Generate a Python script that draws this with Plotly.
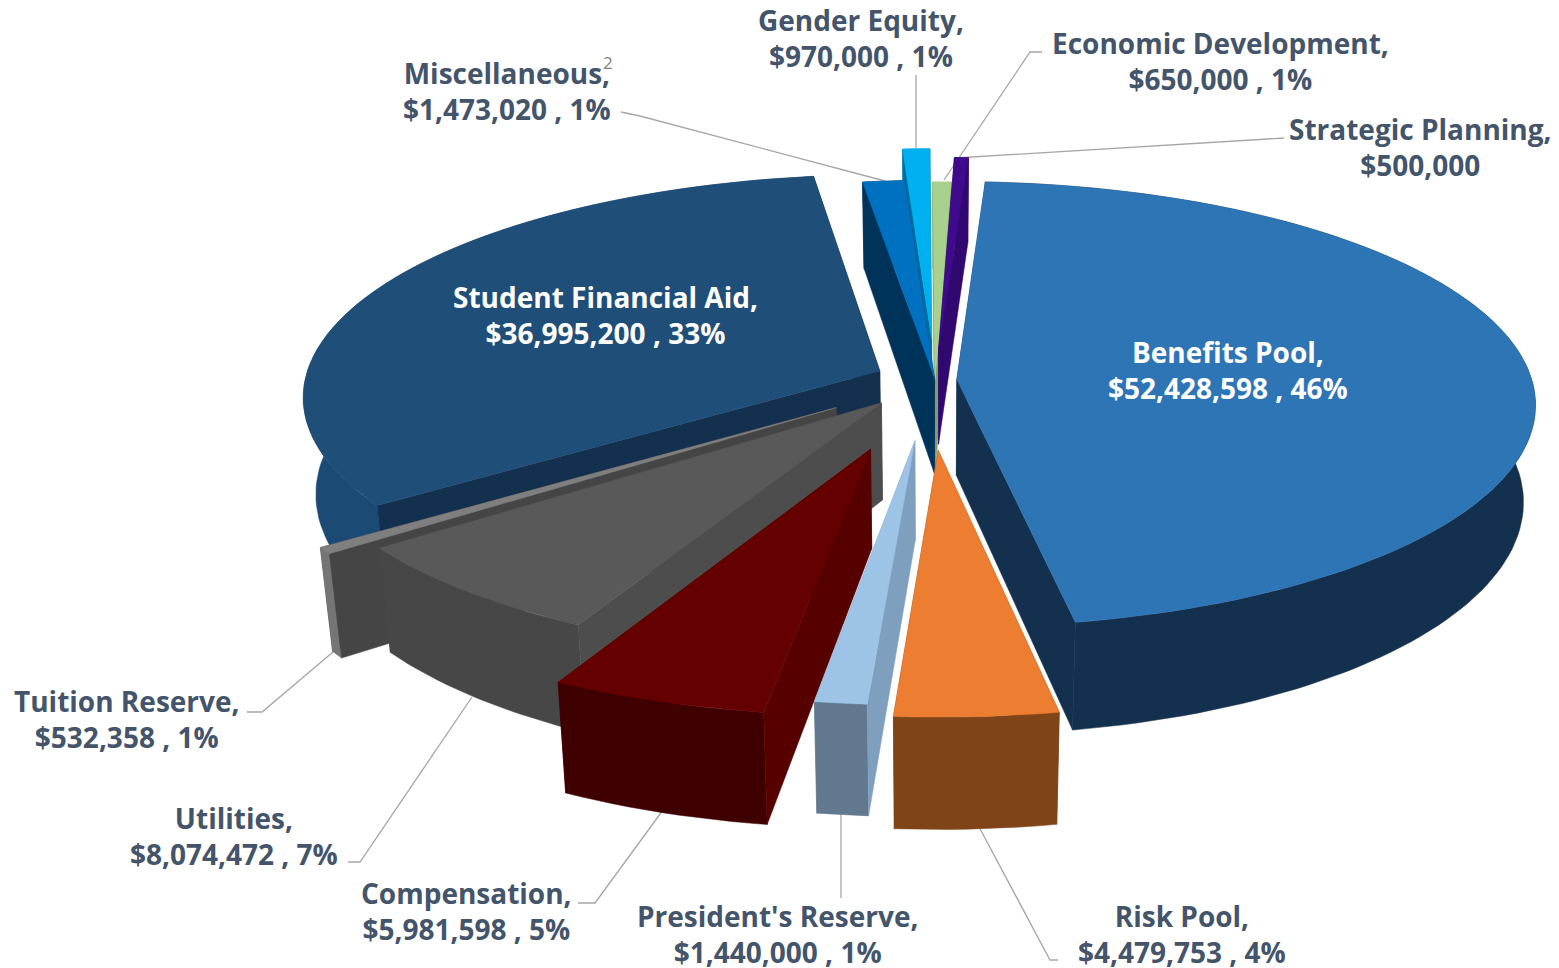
import math

import plotly.graph_objects as go

categories = ["Benefits Pool", "Risk Pool", "President's Reserve", "Compensation", "Utilities",
              "Tuition Reserve", "Student Financial Aid", "Miscellaneous", "Gender Equity",
              "Economic Development", "Strategic Planning"]
values = [52428598, 4479753, 1440000, 5981598, 8074472, 532358, 36995200, 1473020, 970000, 650000, 500000]
percents = ["46%", "4%", "1%", "5%", "7%", "1%", "33%", "1%", "1%", "1%", ""]

# how far each slice is pulled out, as a share of the radius
pulls = [0.038, 0.31, 0.27, 0.32, 0.135, 0.21, 0.105, 0.01, 0.19, 0.0, 0.14]
# small sideways shift of the pulled slices, same unit
nudges = [0, -0.012, -0.005, -0.01, -0.005, 0, 0, 0, 0, 0, 0]
top_colors = ["#2E75B6", "#ED7D31", "#9DC3E6", "#640000", "#595959", "#7F7F7F",
              "#1F4E79", "#0070C0", "#00B0F0", "#A9D18E", "#3F0A8C"]
rim_colors = ["#14304F", "#7F4519", "#62788F", "#3E0000", "#474747", "#757575",
              "#1B4A75", "#00335A", "#0088BE", "#7F9E6A", "#2E0868"]
cut_colors = ["#13304F", "#7F4519", "#7F9FBF", "#560000", "#4D4D4D", "#454545",
              "#14304F", "#00335A", "#006E9E", "#7F9E6A", "#300870"]
draw_order = [8, 9, 10, 7, 6, 0, 5, 4, 3, 2, 1]

# label centres in pixels
label_pos = [(1228, 370), (1182, 934), (777, 934), (466, 911), (234, 836), (127, 719),
             (605, 315), (507, 91), (861, 38), (1220, 61), (1420, 147)]
label_colors = ["#FFFFFF", "#44546A", "#44546A", "#44546A", "#44546A", "#44546A",
                "#FFFFFF", "#44546A", "#44546A", "#44546A", "#44546A"]

leaders = [
    ([1058, 1050, 978], [960, 960, 825]),
    ([841, 841], [898, 810]),
    ([578, 595, 663], [903, 903, 810]),
    ([348, 360, 472], [862, 862, 697]),
    ([247, 262, 333], [712, 712, 652]),
    ([621, 640, 885], [112, 116, 181]),
    ([916, 916], [75, 148]),
    ([1042, 1030, 944], [52, 52, 180]),
    ([1284, 955], [138, 158]),
]

W, H = 1559, 968
PAGE_MARGIN = 8  # the page body adds this much round the figure
CX, CY = 935, 380
RX, RY = 575, 220
DIST = 9.0
WALL = 96
BOTTOM_SHRINK = 0.98
START_ANGLE = 3.4


def project(x, y, bottom=False):
    s = DIST / (DIST + y)
    if bottom:
        return (CX + x * RX * s * BOTTOM_SHRINK, CY - y * RY * s + WALL * s)
    return (CX + x * RX * s, CY - y * RY * s)


def polygon(points, color):
    xs = [p[0] for p in points] + [points[0][0]]
    ys = [p[1] for p in points] + [points[0][1]]
    return go.Scatter(x=xs, y=ys, mode="lines", fill="toself", fillcolor=color,
                      line=dict(color=color, width=0.5), hoverinfo="skip", showlegend=False)


total = sum(values)
angles = [START_ANGLE]
for v in values:
    angles.append(angles[-1] + v / total * 360)

fig = go.Figure()

for lx, ly in leaders:
    fig.add_trace(go.Scatter(x=lx, y=ly, mode="lines", line=dict(color="#A6A6A6", width=1.3),
                             hoverinfo="skip", showlegend=False))

for i in draw_order:
    a0, a1 = angles[i], angles[i + 1]
    mid = math.radians((a0 + a1) / 2)
    ox, oy = pulls[i] * math.sin(mid) + nudges[i], pulls[i] * math.cos(mid)
    steps = max(2, int((a1 - a0) / 1.5))
    arc = [(ox + math.sin(math.radians(a0 + (a1 - a0) * k / steps)),
            oy + math.cos(math.radians(a0 + (a1 - a0) * k / steps))) for k in range(steps + 1)]

    def cut_wall(p):
        return [project(ox, oy), project(*p), project(*p, bottom=True), project(ox, oy, bottom=True)]

    # back facing cut first, then the rim, then the front facing cut, then the top
    start_front = math.sin(math.radians(a0)) < 0
    end_front = math.sin(math.radians(a1)) > 0
    if not start_front:
        fig.add_trace(polygon(cut_wall(arc[0]), cut_colors[i]))
    if not end_front:
        fig.add_trace(polygon(cut_wall(arc[-1]), cut_colors[i]))
    rim = [project(*p) for p in arc] + [project(*p, bottom=True) for p in reversed(arc)]
    fig.add_trace(polygon(rim, rim_colors[i]))
    if start_front:
        fig.add_trace(polygon(cut_wall(arc[0]), cut_colors[i]))
    if end_front:
        fig.add_trace(polygon(cut_wall(arc[-1]), cut_colors[i]))
    top = [project(ox, oy)] + [project(*p) for p in arc]
    fig.add_trace(polygon(top, top_colors[i]))

for name, val, pct, pos, col in zip(categories, values, percents, label_pos, label_colors):
    amount = f"${val:,} , {pct}" if pct else f"${val:,}"
    fig.add_annotation(x=pos[0], y=pos[1], text=f"<b>{name},<br>{amount}</b>", showarrow=False,
                       font=dict(family="Open Sans", size=28, color=col), align="center",
                       xanchor="center", yanchor="middle")

fig.add_annotation(x=608, y=62, text="2", showarrow=False,
                   font=dict(family="Open Sans", size=17, color="#7F7F7F"))

fig.update_xaxes(range=[PAGE_MARGIN, W], visible=False, fixedrange=True)
fig.update_yaxes(range=[H, PAGE_MARGIN], visible=False, fixedrange=True)
fig.update_layout(width=W - PAGE_MARGIN, height=H - PAGE_MARGIN, margin=dict(l=0, r=0, t=0, b=0),
                  paper_bgcolor="white", plot_bgcolor="white", showlegend=False)

fig.write_html("out.html")
